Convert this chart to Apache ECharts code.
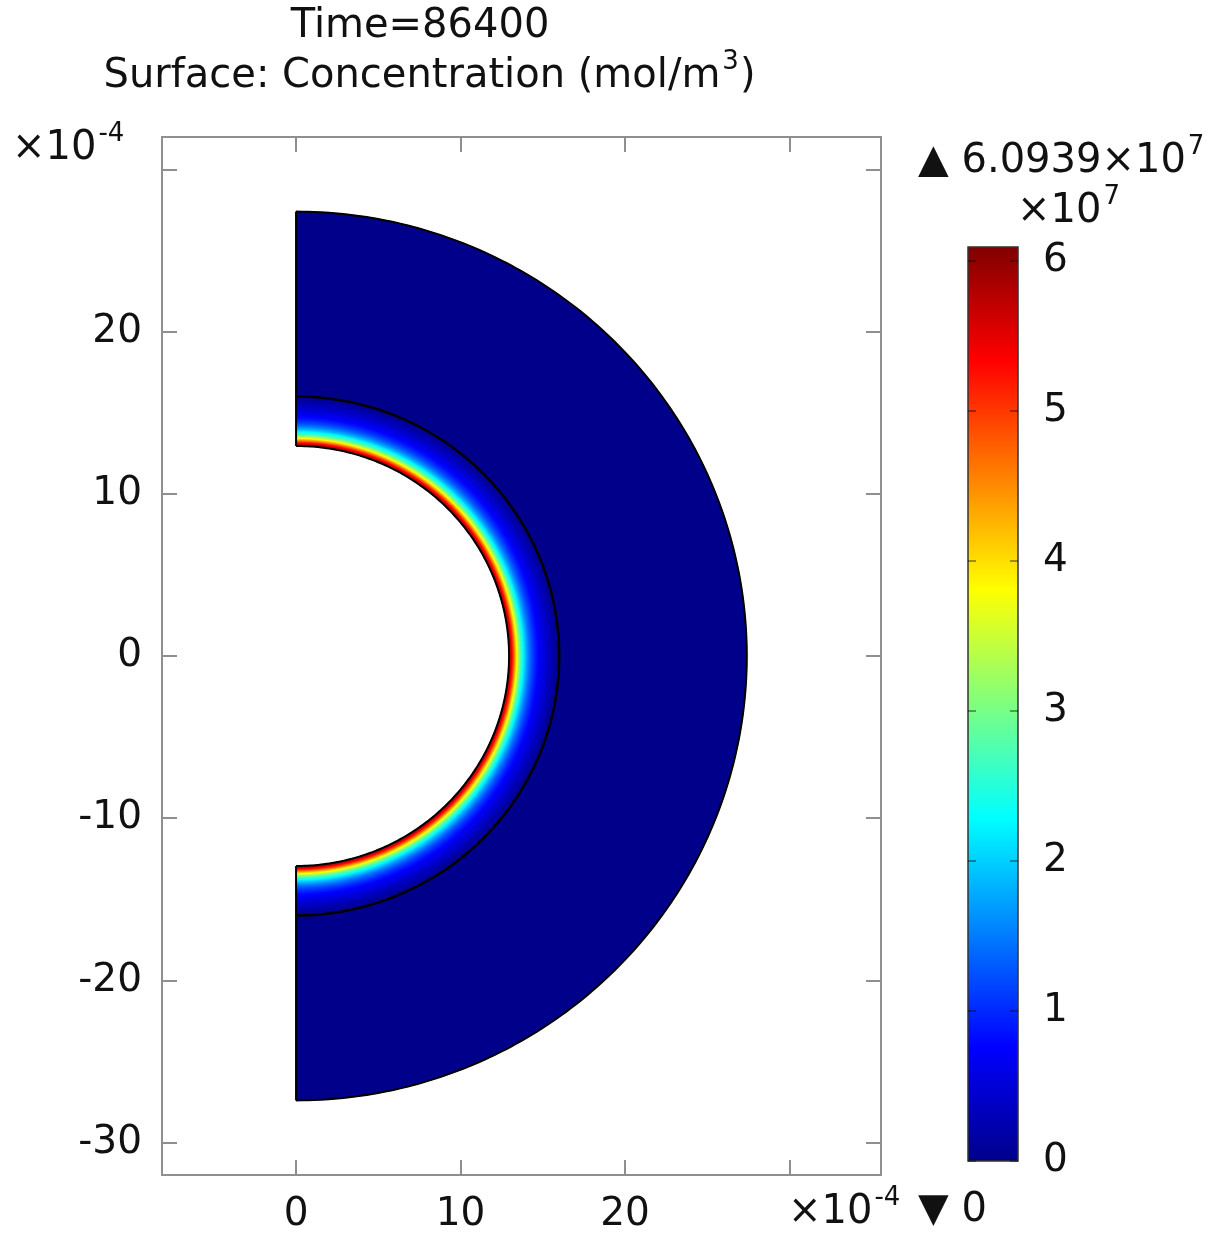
<!DOCTYPE html>
<html><head><meta charset="utf-8">
<script src="https://cdn.jsdelivr.net/npm/echarts@6/dist/echarts.min.js"></script>
<style>html,body{margin:0;padding:0;background:#fff}#c{width:1224px;height:1234px}</style>
</head><body><div id="c"></div>
<script>
// ---- data ----
const titleText = 'Time=86400';
const xTicks = [0, 10, 20, 30];
const xLabels = [0, 10, 20];
const yTicks = [-30, -20, -10, 0, 10, 20, 30];
const yLabels = [-30, -20, -10, 0, 10, 20];
const cbTicks = [0, 1, 2, 3, 4, 5, 6];
const cMin = 0;
const cMax = 6.0939;
// radial concentration profile (radius in 1e-4 m, concentration in 1e7 mol/m3)
const profileR = [12.95, 13.05, 13.15, 13.25, 13.35, 13.45, 13.55, 13.65, 13.75, 13.85, 14.0, 14.2, 14.4, 14.6, 14.8, 15.0, 15.2, 15.4, 15.6, 15.8, 16.0];
const profileC = [6.0939, 5.8, 5.4, 4.9, 4.35, 3.8, 3.3, 2.9, 2.55, 2.25, 1.85, 1.45, 1.15, 0.92, 0.74, 0.6, 0.48, 0.36, 0.24, 0.12, 0.02];
const outerR = 27.4;
const outerC = 0;
const jetColors = ['#00008A', '#0000FF', '#007FFF', '#00FFFF', '#7FFF7F', '#FFFF00', '#FF7F00', '#FF0000', '#800000'];

// ---- build series data ----
const ringData = [];
for (let i = 0; i < profileR.length - 1; i++) ringData.push([profileR[i], profileR[i + 1], profileC[i], profileC[i + 1]]);
ringData.push([profileR[profileR.length - 1], outerR, outerC, outerC]);
const arcData = [[profileR[0], 2], [profileR[profileR.length - 1], 2.5], [outerR, 2]];
const edgeData = [[profileR[0], outerR, 1], [profileR[0], outerR, -1]];

const FONT = 'DejaVu Sans';
function colorOf(v) { return echarts.color.lerp((v - cMin) / (cMax - cMin), jetColors); }
function arcPts(api, r, from, to, steps) {
  const pts = [];
  for (let k = 0; k <= steps; k++) {
    const t = from + (to - from) * k / steps;
    pts.push(api.coord([r * Math.cos(t), r * Math.sin(t)]));
  }
  return pts;
}
const H = Math.PI / 2;

function renderRing(params, api) {
  const r0 = api.value(0), r1 = api.value(1), c0 = api.value(2), c1 = api.value(3);
  const nSub = (c0 === c1) ? 1 : 6;
  const children = [];
  for (let s = 0; s < nSub; s++) {
    const a = r0 + (r1 - r0) * s / nSub, b = r0 + (r1 - r0) * (s + 1) / nSub;
    const v = c0 + (c1 - c0) * (s + 0.5) / nSub;
    const col = colorOf(v);
    const pts = arcPts(api, b, -H, H, 160).concat(arcPts(api, a, H, -H, 160));
    children.push({ type: 'polygon', shape: { points: pts }, style: { fill: col, stroke: col, lineWidth: 0.8 } });
  }
  return { type: 'group', children };
}
function renderArc(params, api) {
  return { type: 'polyline', shape: { points: arcPts(api, api.value(0), -H, H, 240) }, style: { stroke: '#000', lineWidth: api.value(1), fill: null } };
}
function renderEdge(params, api) {
  const s = api.value(2);
  const p = api.coord([0, s * api.value(0)]), q = api.coord([0, s * api.value(1)]);
  return { type: 'line', shape: { x1: p[0], y1: p[1], x2: q[0], y2: q[1] }, style: { stroke: '#000', lineWidth: 2 } };
}
function renderBar(params, api) {
  const p0 = api.coord([0, api.value(1)]), p1 = api.coord([1, api.value(3)]);
  const stops = jetColors.map((c, i) => ({ offset: i / (jetColors.length - 1), color: c }));
  return { type: 'rect', shape: { x: p0[0], y: p1[1], width: p1[0] - p0[0], height: p0[1] - p1[1] },
    style: { fill: new echarts.graphic.LinearGradient(0, 1, 0, 0, stops), stroke: '#333', lineWidth: 1.5 } };
}

const axisLineStyle = { color: '#8f8f8f', width: 2 };
const lbl = { fontSize: 39, color: '#111', fontFamily: FONT };
const mainLine = { show: true, onZero: false, lineStyle: axisLineStyle };

// text with optional superscript, built from two text elements
const MAIN_FS = 40, SUP_FS = 26;
const measureCtx = document.createElement('canvas').getContext('2d');
function textWidth(s, fs) { measureCtx.font = fs + 'px "' + FONT + '"'; return measureCtx.measureText(s).width; }
function supText(x, y, main, supStr, align) {
  const w = textWidth(main, MAIN_FS);
  const ws = supStr ? textWidth(supStr, SUP_FS) : 0;
  const left = align === 'center' ? x - (w + ws + 2) / 2 : x;
  const els = [{ type: 'text', x: left, y: y, style: { text: main, fontSize: MAIN_FS, fontFamily: FONT, fill: '#111', align: 'left', verticalAlign: 'middle' } }];
  if (supStr) els.push({ type: 'text', x: left + w + 2, y: y - 15, style: { text: supStr, fontSize: SUP_FS, fontFamily: FONT, fill: '#111', align: 'left', verticalAlign: 'middle' } });
  return els;
}

const option = {
  animation: false,
  backgroundColor: '#fff',
  grid: [
    { left: 162, top: 137, width: 719, height: 1038 },
    { left: 968, top: 247, width: 50, height: 914 }
  ],
  xAxis: [
    { type: 'value', gridIndex: 0, position: 'bottom', min: -8.15, max: 35.56,
      axisLine: mainLine, splitLine: { show: false },
      axisTick: { show: true, inside: true, length: 15, customValues: xTicks, lineStyle: axisLineStyle },
      axisLabel: Object.assign({ customValues: xLabels, margin: 20 }, lbl) },
    { type: 'value', gridIndex: 0, position: 'top', min: -8.15, max: 35.56,
      axisLine: mainLine, splitLine: { show: false },
      axisTick: { show: true, inside: true, length: 15, customValues: xTicks, lineStyle: axisLineStyle },
      axisLabel: { show: false } },
    { type: 'value', gridIndex: 1, min: 0, max: 1, show: false }
  ],
  yAxis: [
    { type: 'value', gridIndex: 0, position: 'left', min: -32, max: 32,
      axisLine: mainLine, splitLine: { show: false },
      axisTick: { show: true, inside: true, length: 15, customValues: yTicks, lineStyle: axisLineStyle },
      axisLabel: Object.assign({ customValues: yLabels, margin: 20 }, lbl) },
    { type: 'value', gridIndex: 0, position: 'right', min: -32, max: 32,
      axisLine: mainLine, splitLine: { show: false },
      axisTick: { show: true, inside: true, length: 15, customValues: yTicks, lineStyle: axisLineStyle },
      axisLabel: { show: false } },
    { type: 'value', gridIndex: 1, position: 'right', min: cMin, max: cMax, z: 10,
      axisLine: { show: false, onZero: false }, splitLine: { show: false },
      axisTick: { show: true, inside: true, length: 8, customValues: cbTicks, lineStyle: { color: 'rgba(0,0,0,0.5)', width: 1.5 } },
      axisLabel: Object.assign({ customValues: cbTicks, margin: 25 }, lbl) },
    { type: 'value', gridIndex: 1, position: 'left', min: cMin, max: cMax, z: 10,
      axisLine: { show: false, onZero: false }, splitLine: { show: false },
      axisTick: { show: true, inside: true, length: 8, customValues: cbTicks, lineStyle: { color: 'rgba(0,0,0,0.5)', width: 1.5 } },
      axisLabel: { show: false } }
  ],
  series: [
    { type: 'custom', xAxisIndex: 0, yAxisIndex: 0, renderItem: renderRing, data: ringData, z: 1, silent: true },
    { type: 'custom', xAxisIndex: 0, yAxisIndex: 0, renderItem: renderArc, data: arcData, z: 3, silent: true },
    { type: 'custom', xAxisIndex: 0, yAxisIndex: 0, renderItem: renderEdge, data: edgeData, z: 3, silent: true },
    { type: 'custom', xAxisIndex: 2, yAxisIndex: 2, renderItem: renderBar, data: [[0, cMin, 1, cMax]], z: 1, silent: true }
  ],
  graphic: [].concat(
    supText(421, 27, titleText, '', 'center'),
    supText(429, 77, 'Surface: Concentration (mol/m', '3', 'center'),
    supText(12, 149, '×10', '-4', 'left'),
    supText(788, 1213, '×10', '-4', 'left'),
    supText(918, 162, '▲ 6.0939×10', '7', 'left'),
    supText(1017, 212, '×10', '7', 'left'),
    supText(918, 1211, '▼ 0', '', 'left')
  )
};
// closing parenthesis of the subtitle follows the superscript
(function () {
  const w = textWidth('Surface: Concentration (mol/m', MAIN_FS), ws = textWidth('3', SUP_FS), wp = textWidth(')', MAIN_FS);
  const left = 429 - (w + ws + 2 + wp) / 2;
  option.graphic[1].x = left; option.graphic[2].x = left + w + 2;
  option.graphic.push({ type: 'text', x: left + w + ws + 3, y: 77, style: { text: ')', fontSize: MAIN_FS, fontFamily: FONT, fill: '#111', align: 'left', verticalAlign: 'middle' } });
})();
const chart = echarts.init(document.getElementById('c'), null, { renderer: 'canvas' });
chart.setOption(option);
</script></body></html>
